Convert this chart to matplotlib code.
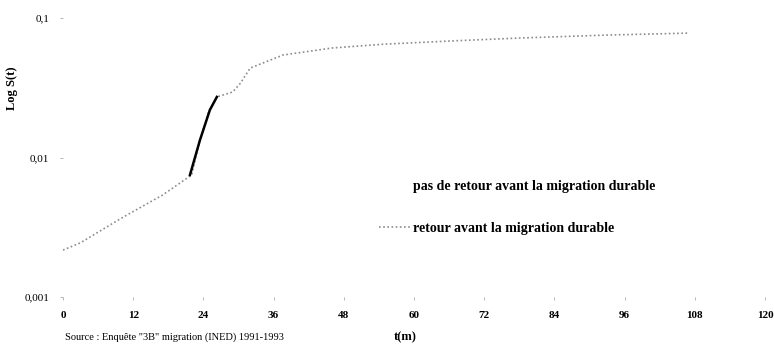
import matplotlib
matplotlib.use("Agg")
import matplotlib.pyplot as plt
from matplotlib.lines import Line2D

# durée (mois) et Log S(t)
t_retour = [0, 3, 10, 17, 22, 23.4, 25, 26.3, 29, 30.3, 32, 37.6, 46, 55, 66, 78, 93, 107]
s_retour = [0.00217, 0.00245, 0.00368, 0.00538, 0.0075, 0.0133, 0.0219, 0.0272, 0.0295,
            0.034, 0.0438, 0.0543, 0.061, 0.065, 0.0684, 0.0719, 0.0755, 0.078]

# segment visible en trait plein
t_pas_retour = [21.7, 23.4, 25.1, 26.3]
s_pas_retour = [0.0075, 0.0133, 0.0219, 0.0272]

x_ticks = [0, 12, 24, 36, 48, 60, 72, 84, 96, 108, 120]
y_ticks = [0.001, 0.01, 0.1]
y_labels = ["0,001", "0,01", "0,1"]

serif = ["Liberation Serif", "DejaVu Serif"]

fig = plt.figure(figsize=(7.74, 3.47), dpi=100)
ax = fig.add_axes([0.0814, 0.144, 0.907, 0.804])

ax.plot(t_retour, s_retour, color="#8c8c8c", linestyle=(0, (1, 1.5)), linewidth=1.2)
ax.plot(t_pas_retour, s_pas_retour, color="black", linewidth=1.8)

ax.set_yscale("log")
ax.set_xlim(0, 120)
ax.set_ylim(0.001, 0.1)
ax.set_xticks(x_ticks)
ax.set_xticklabels([str(v) for v in x_ticks], fontfamily=serif, fontsize=8, fontweight="bold")
ax.set_yticks(y_ticks)
ax.set_yticklabels(y_labels, fontfamily=serif, fontsize=8)
ax.minorticks_off()
ax.tick_params(axis="both", length=2, width=0.5, color="#999999", pad=8)
for s in ax.spines.values():
    s.set_visible(False)

handles = [Line2D([], [], color="white", linewidth=1),
           Line2D([], [], color="#8c8c8c", linestyle=(0, (1, 1.5)), linewidth=1.2)]
labels = ["pas de retour avant la migration durable", "retour avant la migration durable"]
ax.legend(handles, labels, loc="upper left", bbox_to_anchor=(0.433, 0.465), frameon=False,
          prop={"family": serif, "size": 10, "weight": "bold"}, handlelength=2.2,
          handletextpad=0.2, labelspacing=2.1)

fig.text(12 / 774, 1 - 88 / 347, "Log S(t)", rotation=90, ha="center", va="center",
         fontfamily=serif, fontsize=9, fontweight="bold")
fig.text(405 / 774, 1 - 337 / 347, "t(m)", ha="center", va="center",
         fontfamily=serif, fontsize=9, fontweight="bold")
fig.text(65 / 774, 1 - 337 / 347, "Source : Enquête \"3B\" migration (INED) 1991-1993",
         ha="left", va="center", fontfamily=serif, fontsize=7.5)

fig.savefig("out.png", dpi=100)
